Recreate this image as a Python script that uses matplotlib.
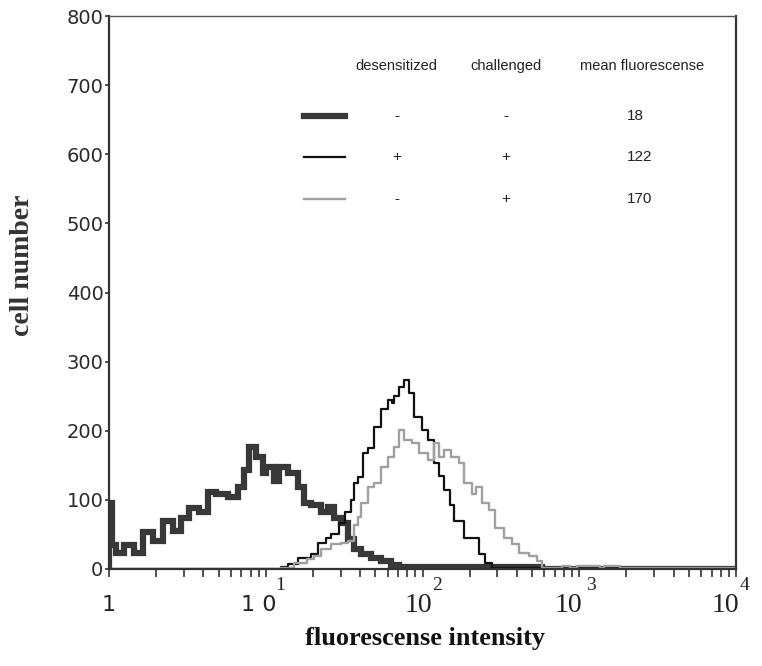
import matplotlib
matplotlib.use('Agg')
import matplotlib.pyplot as plt

# histogram steps: (intensity at left of step, cell count)
ctrl_x = [1.0, 1.0, 1.05, 1.11, 1.25, 1.44, 1.65, 1.91, 2.21, 2.56, 2.88, 3.24, 3.76, 4.29, 4.83, 5.76,
          6.67, 7.29, 7.85, 8.69, 9.64, 10.1, 11.3, 12.2, 13.9, 16.1, 17.6, 19.5, 22.6, 25.1, 27.4,
          30.4, 33.7, 36.8, 40.7, 47.2, 54.7, 63.4, 70.3, 575, 10000]
ctrl_y = [0, 96, 34, 23, 34, 23, 53, 41, 70, 55, 74, 88, 82, 111, 109, 104,
          118, 143, 177, 162, 139, 147, 128, 147, 139, 118, 96, 92, 82, 89, 74,
          66, 44, 29, 22, 16, 12, 6, 3, 0, 0]

des_x = [1.0, 9.78, 12.6, 13.9, 16.1, 19.5, 21.6, 24.4, 26.2, 29.5, 32.2, 35.2, 36.8, 39.0, 42.0,
         45.2, 49.3, 54.7, 60.6, 64.3, 66.2, 71.3, 76.7, 82.6, 88.9, 98.6, 109, 119, 128, 138,
         149, 160, 183, 206, 228, 249, 276, 10000]
des_y = [0, 0, 3, 7, 16, 22, 38, 45, 51, 66, 82, 100, 124, 133, 168,
         175, 206, 231, 245, 240, 250, 264, 274, 255, 220, 201, 187, 153, 135, 114,
         92, 70, 45, 45, 22, 9, 1, 1]

chal_x = [1.0, 10.4, 12.6, 15.2, 18.2, 20.4, 22.6, 26.2, 30.4, 33.7, 36.8, 39.0, 40.7, 45.2, 49.3,
          54.7, 60.6, 66.2, 71.3, 76.7, 85.1, 94.3, 109, 119, 128, 138, 153, 170, 185, 206,
          221, 238, 264, 289, 329, 371, 411, 476, 535, 575, 773, 870, 964, 1352, 1435, 1814, 1953, 10000]
chal_y = [0, 0, 2, 8, 14, 19, 29, 36, 38, 41, 63, 75, 95, 118, 124,
          147, 162, 177, 201, 187, 182, 168, 158, 182, 162, 172, 162, 153, 124, 109,
          118, 95, 85, 60, 45, 36, 23, 19, 12, 2, 5, 2, 4, 2, 4, 2, 2, 2]

yticks = [0, 100, 200, 300, 400, 500, 600, 700, 800]
decades = [1, 10, 100, 1000, 10000]
dec_base = ['1', '1 0', '10', '10', '10']
dec_sup = ['', '1', '2', '3', '4']

legend_head = ['desensitized', 'challenged', 'mean fluorescense']
legend_des = ['-', '+', '-']
legend_chal = ['-', '+', '+']
legend_mean = ['18', '122', '170']

fig = plt.figure(figsize=(7.62, 6.66), dpi=100)
ax = fig.add_axes([109 / 762, 1 - 569 / 666, 627 / 762, 553 / 666])

ax.step(ctrl_x, ctrl_y, where='post', color='#383838', lw=4.5, solid_joinstyle='miter')
ax.step(des_x, des_y, where='post', color='#111111', lw=1.6)
ax.step(chal_x, chal_y, where='post', color='#a0a0a0', lw=1.7)

ax.set_xscale('log')
ax.set_xlim(1, 10000)
ax.set_ylim(0, 800)

for s in ['left', 'bottom', 'right']:
    ax.spines[s].set_linewidth(1.6)
    ax.spines[s].set_color('#333333')
ax.spines['top'].set_linewidth(1.0)
ax.spines['top'].set_color('#555555')

ax.set_yticks(yticks)
ax.set_yticklabels([str(v) for v in yticks], family='DejaVu Sans', fontsize=14, color='#2a2a2a')
ax.tick_params(axis='y', direction='out', length=3, width=1.2, pad=1, color='#333333')
ax.tick_params(axis='x', which='both', direction='out', length=6, width=1.2, color='#333333',
               labelbottom=False)

xtr = ax.get_xaxis_transform()
base_off = [0, -7, -4, -11, -11]
sup_off = [0, 14, 15, 12, 9]
for d, b, s, bo, so in zip(decades, dec_base, dec_sup, base_off, sup_off):
    if d < 100:
        fam, fs = 'DejaVu Sans', 16
    else:
        fam, fs = 'Liberation Serif', 20
    ax.annotate(b, xy=(d, 0), xycoords=xtr, xytext=(bo, -36), textcoords='offset pixels',
                ha='center', va='center', family=fam, fontsize=fs, color='#222222',
                annotation_clip=False)
    if s:
        ax.annotate(s, xy=(d, 0), xycoords=xtr, xytext=(so, -17), textcoords='offset pixels',
                    ha='center', va='center', family='Liberation Serif', fontsize=14,
                    color='#222222', annotation_clip=False)

fig.text(23 / 762, 1 - 265 / 666, 'cell number', rotation=90, ha='center', va='center',
         family='Liberation Serif', fontweight='bold', fontsize=20, color='#333333')
fig.text(425 / 762, 1 - 638 / 666, 'fluorescense intensity', ha='center', va='center',
         family='Liberation Serif', fontweight='bold', fontsize=19, color='#111111')

# legend table drawn inside the plot
narrow = ['Liberation Sans Narrow', 'Liberation Sans']
col_x = [0.459, 0.633, 0.850]
for cx, h in zip(col_x, legend_head):
    ax.text(cx, 0.909, h, transform=ax.transAxes, ha='center', va='center',
            family=narrow, fontsize=10.5, color='#222222')
row_y = [0.819, 0.745, 0.669]
styles = [('#383838', 4.5), ('#111111', 1.6), ('#a0a0a0', 1.7)]
for ry, (c, w), a, b, m in zip(row_y, styles, legend_des, legend_chal, legend_mean):
    ax.plot([0.311, 0.376], [ry, ry], transform=ax.transAxes, color=c, lw=w, clip_on=False)
    ax.text(col_x[0], ry, a, transform=ax.transAxes, ha='center', va='center',
            family=narrow, fontsize=11, color='#222222')
    ax.text(col_x[1], ry, b, transform=ax.transAxes, ha='center', va='center',
            family=narrow, fontsize=11, color='#222222')
    ax.text(0.826, ry, m, transform=ax.transAxes, ha='left', va='center',
            family=narrow, fontsize=11, color='#222222')

fig.savefig('out.png', dpi=100)
